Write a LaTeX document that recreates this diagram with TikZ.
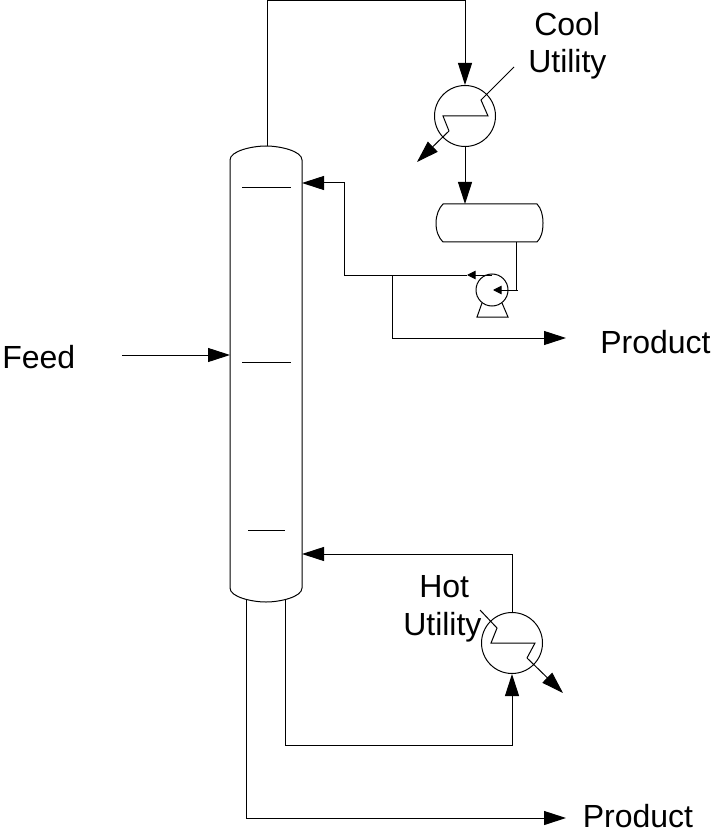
\documentclass[tikz,border=0pt]{standalone}
\usepackage{fontspec}
\setmainfont{Liberation Sans}
\usetikzlibrary{arrows.meta}
\tikzset{
  x=0.75pt,y=-0.75pt,
  pipe/.style={draw=black,line width=0.75pt},
  flow/.style={pipe,-{Triangle[length=16.5pt,width=10.5pt]},shorten >=0pt},
  smallflow/.style={pipe,-{Triangle[length=6.5pt,width=6.5pt]}},
  exch/.style={circle,draw=black,line width=0.75pt,minimum size=45.75pt,inner sep=0pt},
  pumpbody/.style={circle,draw=black,line width=0.75pt,minimum size=24pt,inner sep=0pt},
  lab/.style={font=\fontsize{24}{24}\selectfont,anchor=base west,inner sep=0pt,text=black},
}
\begin{document}
\begin{tikzpicture}
\useasboundingbox (0,0) rectangle (713,830);
% column
\draw[pipe] (230,160) .. controls (230,151) and (252,146) .. (266,146) .. controls (280,146) and (302,151) .. (302,160)
  -- (302,588) .. controls (302,597) and (280,602) .. (266,602) .. controls (252,602) and (230,597) .. (230,588) -- cycle;
\coordinate (coltop) at (267,146);
\coordinate (colrefl) at (302,183);
\coordinate (colfeed) at (230,355);
\coordinate (colboil) at (302,554);
\coordinate (colbotA) at (246,600);
\coordinate (colbotB) at (285,600);
\draw[pipe] (242,188) -- (291,188);
\draw[pipe] (242,362) -- (291,362);
\draw[pipe] (248,530) -- (285,530);
% condenser
\node[exch] (cond) at (465,116) {};
\coordinate (condin) at (514,67);
\coordinate (condout) at (417,162);
\draw[flow] (449,131) -- (condout);
\draw[pipe] (condin) -- (481,100) -- (488,116) -- (443,116) -- (449,131);
% drum
\draw[pipe] (443,204) -- (537,204) .. controls (541,208) and (543,215) .. (543,223) .. controls (543,232) and (541,238) .. (537,242)
  -- (443,242) .. controls (439,238) and (436,232) .. (436,223) .. controls (436,215) and (439,208) .. (443,204) -- cycle;
\coordinate (drumin) at (465,204);
\coordinate (drumout) at (516,242);
% pump
\node[pumpbody] (pump) at (492,290) {};
\draw[pipe] (482,303) -- (477,317) -- (508,317) -- (502,303);
% reboiler
\node[exch] (reb) at (512,643) {};
\coordinate (rebin) at (480,610);
\coordinate (rebout) at (563,693);
\draw[pipe] (rebin) -- (497,628) -- (491,643) -- (535,643) -- (527,658);
\draw[flow] (527,658) -- (rebout);
% connectors
\coordinate (ovh1) at (267,1);
\coordinate (ovh2) at (465,1);
\draw[flow] (coltop) -- (ovh1) -- (ovh2) -- (cond.north);
\draw[flow] (cond.south) -- (drumin);
\coordinate (drumdown) at (516,290);
\coordinate (drumstub) at (518,290);
\coordinate (pumpeye) at (493,290);
\draw[pipe] (drumout) -- (drumdown) -- (drumstub);
\draw[smallflow] (drumdown) -- (pumpeye);
\coordinate (disch) at (492,275);
\coordinate (dischtip) at (467,275);
\coordinate (refl1) at (344,275);
\coordinate (refl2) at (344,183);
\coordinate (branch) at (392,275);
\coordinate (branch2) at (392,338);
\coordinate (prod1) at (566,338);
\draw[smallflow] (disch) -- (dischtip);
\draw[flow] (dischtip) -- (refl1) -- (refl2) -- (colrefl);
\draw[flow] (branch) -- (branch2) -- (prod1);
\coordinate (feedstart) at (122,355);
\draw[flow] (feedstart) -- (colfeed);
\coordinate (boil1) at (512,554);
\draw[flow] (reb.north) -- (boil1) -- (colboil);
\coordinate (sump1) at (285,745);
\coordinate (sump2) at (512,745);
\draw[flow] (colbotB) -- (sump1) -- (sump2) -- (reb.south);
\coordinate (bot1) at (246,818);
\coordinate (prod2) at (566,818);
\draw[flow] (colbotA) -- (bot1) -- (prod2);
% labels
\node[lab] (tCool) at (534,36) {Cool};
\node[lab] (tUtilA) at (528,73) {Utility};
\node[lab] (tProdA) at (600,353) {Product};
\node[lab] (tFeed) at (2,368) {Feed};
\node[lab] (tHot) at (419,597) {Hot};
\node[lab] (tUtilB) at (403,635) {Utility};
\node[lab] (tProdB) at (582.5,827) {Product};
\end{tikzpicture}
\end{document}
